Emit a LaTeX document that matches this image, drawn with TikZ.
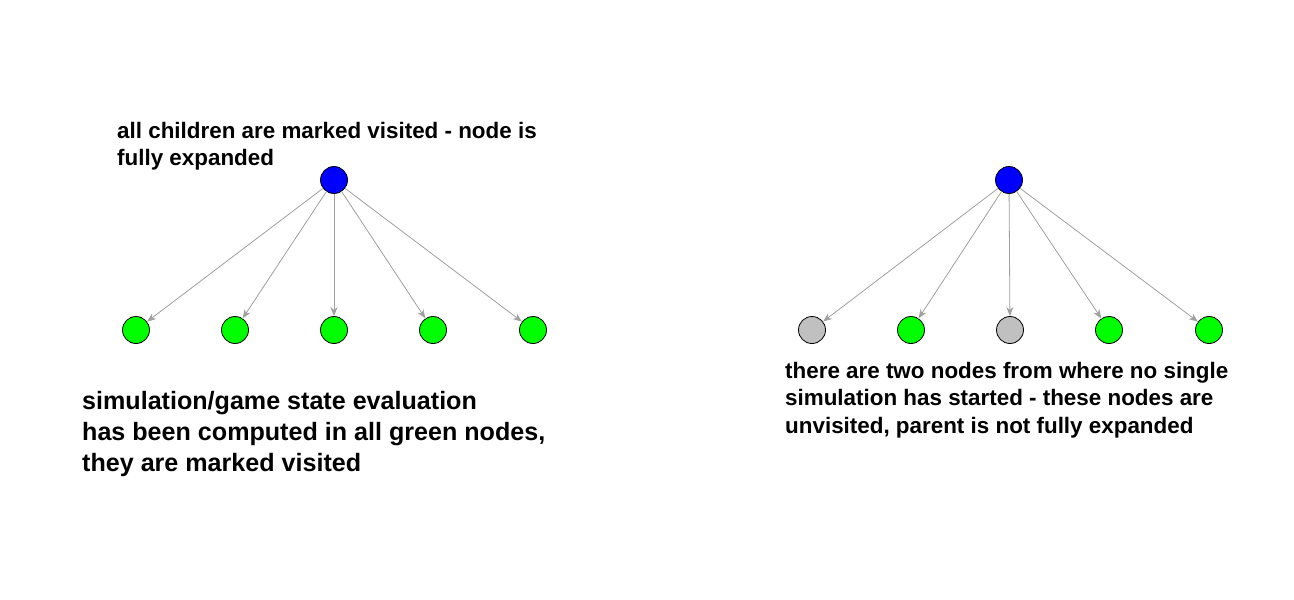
\documentclass[tikz,border=0pt]{standalone}
\usepackage{fontspec}
\setmainfont{Liberation Sans}
\usetikzlibrary{arrows.meta}
\definecolor{rootblue}{RGB}{0,0,255}
\definecolor{leafgreen}{RGB}{0,255,0}
\definecolor{leafgray}{RGB}{192,192,192}
\definecolor{edgegray}{RGB}{160,160,160}
\tikzset{
  vtx/.style={circle,draw=black,line width=0.8pt,minimum size=27pt,inner sep=0pt},
  rootnode/.style={vtx,fill=rootblue},
  visited/.style={vtx,fill=leafgreen},
  unvisited/.style={vtx,fill=leafgray},
  edge/.style={draw=edgegray,line width=0.8pt,-{Stealth[length=9pt,width=7pt]}},
  smalltext/.style={anchor=north west,inner sep=0pt,align=left,font=\fontsize{22.4}{27.5}\selectfont\bfseries},
  bigtext/.style={anchor=north west,inner sep=0pt,align=left,font=\fontsize{25.1}{31}\selectfont\bfseries},
}
\begin{document}
\begin{tikzpicture}[x=1pt,y=-1pt]
\useasboundingbox[fill=white] (0,0) rectangle (1294,600);
% left tree
\node[rootnode] (L) at (334,180) {};
\node[visited] (L1) at (136,330) {};
\node[visited] (L2) at (235,330) {};
\node[visited] (L3) at (334,330) {};
\node[visited] (L4) at (433,330) {};
\node[visited] (L5) at (533,330) {};
\foreach \c in {L1,L2,L3,L4,L5} \draw[edge] (L) -- (\c);
% right tree
\node[rootnode] (R) at (1009,180) {};
\node[unvisited] (R1) at (812,330) {};
\node[visited] (R2) at (911,330) {};
\node[unvisited] (R3) at (1010,330) {};
\node[visited] (R4) at (1109,330) {};
\node[visited] (R5) at (1209,330) {};
\foreach \c in {R1,R2,R3,R4,R5} \draw[edge] (R) -- (\c);
% texts
\node[smalltext] (t1) at (117,122) {all children are marked visited - node is\\fully expanded};
\node[bigtext] (t2) at (82,391) {simulation/game state evaluation\\has been computed in all green nodes,\\they are marked visited};
\node[smalltext] (t3) at (785,362) {there are two nodes from where no single\\simulation has started - these nodes are\\unvisited, parent is not fully expanded};
\end{tikzpicture}
\end{document}
